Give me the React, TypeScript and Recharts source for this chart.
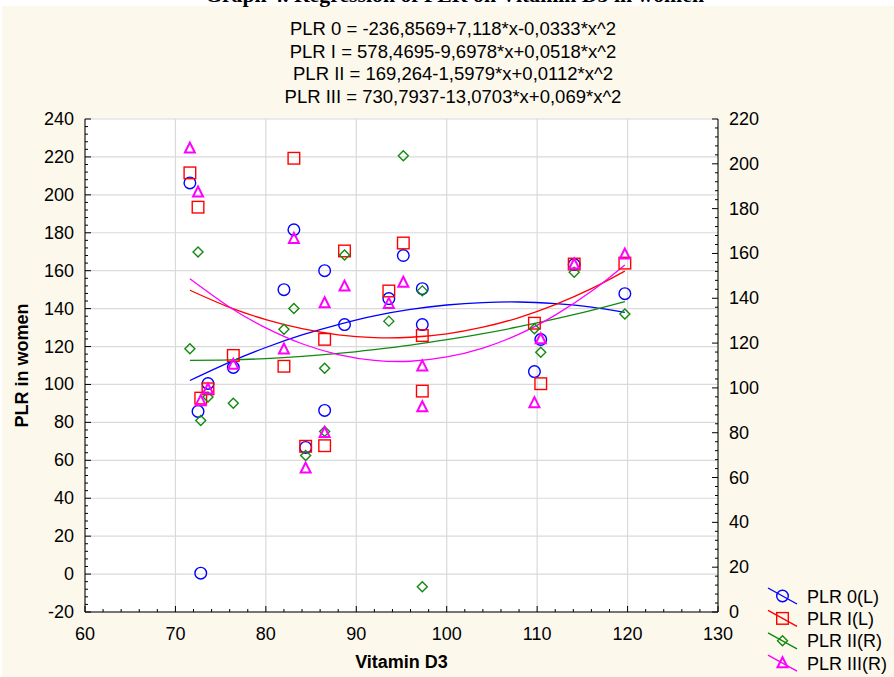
import React from "react";
import {
  CartesianGrid,
  ComposedChart,
  Line,
  Scatter,
  XAxis,
  YAxis,
} from "recharts";

// Vitamin D3 of each woman (shared by the four PLR series)
const vitD = [71.6, 72.5, 72.8, 73.6, 76.4, 82.0, 83.1, 84.4, 86.5, 86.5, 88.7, 93.6, 95.2, 97.3, 97.3, 109.7, 110.4, 114.1, 119.7];
const plr0 = [206.3, 85.8, 0.5, 100.5, 109, 150, 181.6, 66.8, 160, 86.3, 131.6, 145.3, 168, 150.5, 131.6, 106.8, 123.7, 163.2, 147.9];
const plr1 = [211.6, 193.5, 92.8, 97.7, 115.3, 109.6, 219.3, 67.4, 123.8, 67.7, 170.4, 149.3, 174.6, 125.8, 96.5, 132.3, 100.4, 163.5, 164];
const plr2 = [117.5, 160.7, 85.5, 95.9, 93.2, 126.2, 135.4, 69.8, 108.8, 80.6, 159.3, 129.8, 203.6, 143.3, 11.3, 126.4, 115.9, 151.6, 133];
const plr3 = [206.8, 187.2, 94.1, 99.3, 110.3, 117.1, 166.5, 64, 137.8, 79.9, 145.2, 137.5, 146.9, 109.6, 91.4, 93.2, 121.7, 155.1, 159.5];

// fitted curves
const fitX = [71.6, 76, 80, 84, 88, 92, 96, 100, 104, 108, 112, 116, 119.7];
const fit0 = [102.1, 111.8, 119.5, 126.1, 131.6, 136.2, 139.6, 141.9, 143.2, 143.5, 142.6, 140.8, 138.0];
const fit1 = [149.7, 140.6, 134.2, 129.4, 126.2, 124.7, 124.9, 126.7, 130.2, 135.3, 142.1, 150.5, 159.8];
const fit2 = [112.3, 112.5, 113.1, 114.1, 115.4, 117.1, 119.1, 121.5, 124.2, 127.3, 130.8, 134.6, 138.5];
const fit3 = [148.7, 136.0, 126.8, 119.7, 114.9, 112.3, 111.9, 113.8, 117.8, 124.0, 132.5, 143.1, 154.9];

const equations = [
  "PLR 0 = -236,8569+7,118*x-0,0333*x^2",
  "PLR I = 578,4695-9,6978*x+0,0518*x^2",
  "PLR II = 169,264-1,5979*x+0,0112*x^2",
  "PLR III = 730,7937-13,0703*x+0,069*x^2",
];
const legendNames = ["PLR 0(L)", "PLR I(L)", "PLR II(R)", "PLR III(R)"];

const xMajor = [60, 70, 80, 90, 100, 110, 120, 130];
const leftMajor = [-20, 0, 20, 40, 60, 80, 100, 120, 140, 160, 180, 200, 220, 240];

const steps = (from: number, to: number, step: number) => {
  const out: number[] = [];
  for (let v = from; v <= to + 1e-9; v += step) out.push(v);
  return out;
};
const xTicks = steps(60, 130, 2);
const leftTicks = steps(-20, 240, 4);
const rightTicks = steps(0, 220, 4);

const BLUE = "#0000ff";
const RED = "#ff0000";
const GREEN = "#118a11";
const PINK = "#ff00ff";
const FONT = "'Liberation Sans', Arial, sans-serif";

const pts = (xs: number[], ys: number[]) => xs.map((x, i) => ({ x, y: ys[i] }));

const marker = (kind: string, color: string, cx: number, cy: number) => {
  if (kind === "circle")
    return <circle cx={cx} cy={cy} r={5.8} fill="none" stroke={color} strokeWidth={1.4} />;
  if (kind === "square")
    return <rect x={cx - 5.8} y={cy - 5.8} width={11.6} height={11.6} fill="none" stroke={color} strokeWidth={1.4} />;
  if (kind === "diamond")
    return (
      <polygon
        points={`${cx},${cy - 5} ${cx + 5},${cy} ${cx},${cy + 5} ${cx - 5},${cy}`}
        fill="none"
        stroke={color}
        strokeWidth={1.4}
      />
    );
  return (
    <polygon
      points={`${cx},${cy - 6} ${cx + 5},${cy + 4} ${cx - 5},${cy + 4}`}
      fill="none"
      stroke={color}
      strokeWidth={2}
    />
  );
};

const series = [
  { kind: "circle", color: BLUE, axis: "L", ys: plr0, fit: fit0 },
  { kind: "square", color: RED, axis: "L", ys: plr1, fit: fit1 },
  { kind: "diamond", color: GREEN, axis: "R", ys: plr2, fit: fit2 },
  { kind: "triangle", color: PINK, axis: "R", ys: plr3, fit: fit3 },
];

const labelText = (x: number, y: number, v: number, anchor: string) => (
  <text x={x} y={y} textAnchor={anchor} fontSize={18} fontFamily={FONT} fill="#000">
    {v}
  </text>
);

const BottomTick = ({ x, y, payload }: any) => {
  const major = payload.value % 10 === 0;
  return (
    <g>
      <line x1={x} x2={x} y1={y} y2={y - (major ? 6 : 3)} stroke="#000" />
      {major && labelText(x, y + 28, payload.value, "middle")}
    </g>
  );
};
const TopTick = ({ x, y, payload }: any) => {
  const major = payload.value % 10 === 0;
  return <line x1={x} x2={x} y1={y} y2={y + (major ? 6 : 3)} stroke="#000" />;
};
const LeftTick = ({ x, y, payload }: any) => {
  const major = payload.value % 20 === 0;
  return (
    <g>
      <line x1={x} x2={x + (major ? 6 : 3)} y1={y} y2={y} stroke="#000" />
      {major && labelText(x - 11, y + 6, payload.value, "end")}
    </g>
  );
};
const RightTick = ({ x, y, payload }: any) => {
  const major = payload.value % 20 === 0;
  return (
    <g>
      <line x1={x} x2={x - (major ? 6 : 3)} y1={y} y2={y} stroke="#000" />
      {major && labelText(x + 11, y + 6, payload.value, "start")}
    </g>
  );
};

export default function App() {
  return (
    <div style={{ position: "absolute", left: 0, top: 0, width: 894, height: 677, background: "#fff" }}>
      <div style={{ position: "absolute", left: 2, top: 6, right: 0, bottom: 0, background: "#fdf8ec" }} />
      <div style={{ position: "absolute", left: 0, top: 0 }}>
        <ComposedChart width={894} height={677} margin={{ top: 119, right: 126, bottom: 3, left: 0 }}>
          <CartesianGrid
            xAxisId="B"
            yAxisId="L"
            fill="#fff"
            stroke="#dadada"
            strokeWidth={1.2}
            horizontalValues={leftMajor}
            verticalValues={xMajor}
          />
          <XAxis
            xAxisId="B"
            dataKey="x"
            type="number"
            domain={[60, 130]}
            ticks={xTicks}
            interval={0}
            height={62}
            tickSize={0}
            tickMargin={0}
            tickLine={false}
            axisLine={{ stroke: "#000" }}
            tick={<BottomTick />}
            allowDataOverflow
            label={{
              value: "Vitamin D3",
              position: "insideBottom",
              offset: 6,
              style: { fontFamily: FONT, fontSize: 18, fontWeight: "bold", fill: "#000" },
            }}
          />
          <XAxis
            xAxisId="T"
            orientation="top"
            dataKey="x"
            type="number"
            domain={[60, 130]}
            ticks={xTicks}
            interval={0}
            height={0}
            tickSize={0}
            tickMargin={0}
            tickLine={false}
            axisLine={{ stroke: "#000" }}
            tick={<TopTick />}
            allowDataOverflow
          />
          <YAxis
            yAxisId="L"
            type="number"
            domain={[-20, 240]}
            ticks={leftTicks}
            interval={0}
            width={85}
            tickSize={0}
            tickMargin={0}
            tickLine={false}
            axisLine={{ stroke: "#000" }}
            tick={<LeftTick />}
            allowDataOverflow
            label={{
              value: "PLR in women",
              angle: -90,
              position: "insideLeft",
              offset: 22,
              style: { fontFamily: FONT, fontSize: 18, fontWeight: "bold", fill: "#000", textAnchor: "middle" },
            }}
          />
          <YAxis
            yAxisId="R"
            orientation="right"
            type="number"
            domain={[0, 220]}
            ticks={rightTicks}
            interval={0}
            width={50}
            tickSize={0}
            tickMargin={0}
            tickLine={false}
            axisLine={{ stroke: "#000" }}
            tick={<RightTick />}
            allowDataOverflow
          />
          {series.map((s) => (
            <Scatter
              key={`s-${s.kind}`}
              xAxisId="B"
              yAxisId={s.axis}
              data={pts(vitD, s.ys)}
              dataKey="y"
              isAnimationActive={false}
              shape={(p: any) => marker(s.kind, s.color, p.cx, p.cy)}
            />
          ))}
          {series.map((s) => (
            <Line
              key={`l-${s.kind}`}
              xAxisId="B"
              yAxisId={s.axis}
              data={pts(fitX, s.fit)}
              dataKey="y"
              type="natural"
              stroke={s.color}
              strokeWidth={1.3}
              dot={false}
              activeDot={false}
              isAnimationActive={false}
            />
          ))}
        </ComposedChart>
      </div>
      <svg width={894} height={677} style={{ position: "absolute", left: 0, top: 0, pointerEvents: "none" }}>
        <text
          x={205}
          y={2}
          textLength={499}
          lengthAdjust="spacingAndGlyphs"
          fontFamily="'Liberation Serif', 'Times New Roman', serif"
          fontWeight="bold"
          fontSize={21}
          fill="#000"
        >
          Graph 4. Regression of PLR on Vitamin D3 in women
        </text>
        {equations.map((eq, i) => (
          <text key={eq} x={453} y={35 + i * 22.5} textAnchor="middle" fontFamily={FONT} fontSize={18.5} fill="#000">
            {eq}
          </text>
        ))}
        {series.map((s, i) => {
          const cy = 596 + i * 22.4;
          return (
            <g key={`lg-${s.kind}`}>
              <line x1={768} y1={cy - 8} x2={797} y2={cy + 8} stroke={s.color} strokeWidth={1.4} />
              {marker(s.kind, s.color, 782.5, cy)}
              <text x={807} y={cy + 6.5} fontFamily={FONT} fontSize={18} fill="#000">
                {legendNames[i]}
              </text>
            </g>
          );
        })}
      </svg>
    </div>
  );
}
